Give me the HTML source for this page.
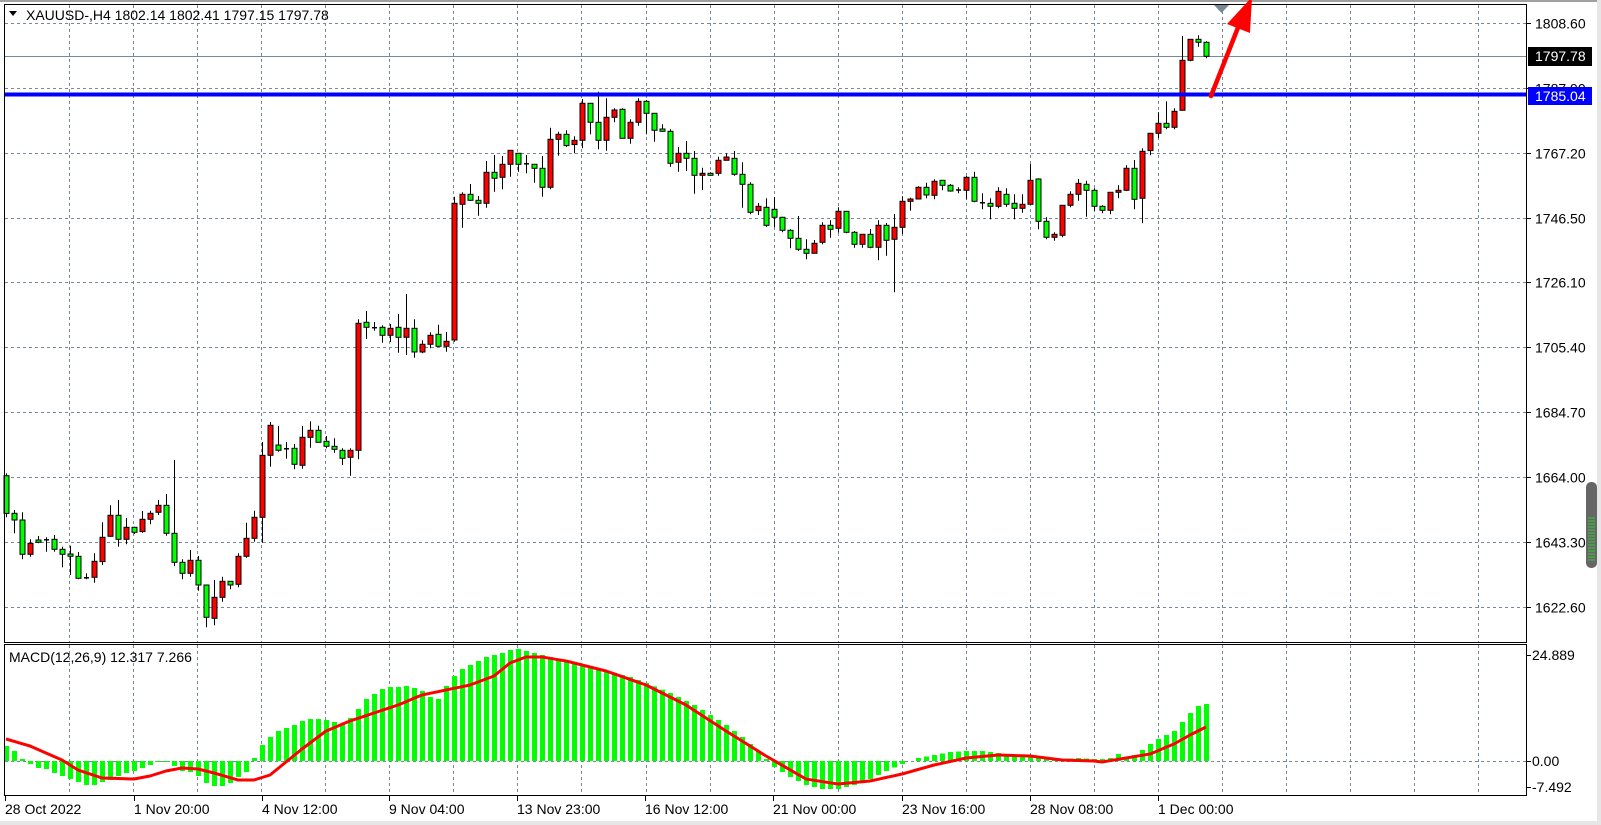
<!DOCTYPE html>
<html><head><meta charset="utf-8"><style>
html,body{margin:0;padding:0;background:#fff;}
body{width:1601px;height:825px;overflow:hidden;position:relative;font-family:"Liberation Sans",sans-serif;}
svg{position:absolute;left:0;top:0;}
text{font-family:"Liberation Sans",sans-serif;font-size:14px;fill:#000;}
</style></head><body>
<svg id="s" width="1601" height="825" xmlns="http://www.w3.org/2000/svg"></svg>
<script>
const s=document.getElementById('s');
let h='';
h+='<rect x="0" y="0" width="1601" height="825" fill="#fff"/>';
h+='<rect x="0" y="0" width="1601" height="2" fill="#a0a0a0"/>';
h+='<rect x="0" y="821" width="1601" height="4" fill="#e6e6e6"/>';
h+='<rect x="1597" y="0" width="4" height="825" fill="#e6e6e6"/>';
const py=p=>22.7+(1808.6-p)*3.1415;
for(let k=0;k<=22;k++){const x=Math.round(69+64.06*k)+0.5;
 h+=`<line x1="${x}" y1="5" x2="${x}" y2="642" stroke="#778899" stroke-dasharray="3,3"/>`;
 h+=`<line x1="${x}" y1="645" x2="${x}" y2="796" stroke="#778899" stroke-dasharray="3,3"/>`;}
const lv=[1808.60,1787.90,1767.20,1746.50,1726.10,1705.40,1684.70,1664.00,1643.30,1622.60];
lv.forEach(p=>{const y=Math.round(py(p))+0.5;
 h+=`<line x1="5" y1="${y}" x2="1527" y2="${y}" stroke="#778899" stroke-dasharray="3,3"/>`;
 h+=`<line x1="1527" y1="${y}" x2="1531" y2="${y}" stroke="#000"/>`;
 h+=`<text x="1535" y="${y+5}">${p.toFixed(2)}</text>`;});
h+=`<line x1="5" y1="56.5" x2="1527" y2="56.5" stroke="#778899"/>`;
const A=[[587,700,580,712,'g'],[700,720,690,760,'g'],[720,823,697,838,'g'],[790,823,778,830,'r'],[780,787,768,790,'g'],[778,781,772,815,'d'],[778,808,765,815,'g'],[808,823,800,862,'g'],[822,829,797,885,'g'],[829,895,816,898,'g'],[892,895,880,898,'d'],[844,892,820,908,'r'],[772,845,727,855,'r'],[706,769,676,770,'r'],[706,778,660,800,'g'],[742,778,714,793,'r'],[742,757,740,762,'g'],[718,755,693,758,'r'],[700,718,692,733,'r'],[676,697,660,705,'r'],[676,760,642,767,'g'],[760,847,540,858,'g'],[847,880,838,898,'g'],[841,880,810,890,'r'],[841,915,828,932,'g'],[915,1012,915,1042,'g'],[952,1015,900,1036,'r'],[904,952,890,965,'r'],[904,915,904,928,'g'],[829,913,820,922,'r'],[775,829,728,833,'r'],[712,775,692,785,'r'],[526,712,486,788,'r'],[436,526,426,560,'r'],[495,511,438,515,'g'],[505,508,486,536,'d'],[505,553,492,568,'g'],[472,556,438,566,'r'],[451,472,424,503,'r'],[451,487,437,487,'g'],[484,499,468,505,'g'],[499,508,475,518,'g'],[511,535,505,555,'g'],[511,532,505,587,'r'],[130,511,118,538,'r'],[127,142,93,177,'g'],[142,144,126,152,'d'],[142,166,136,188,'g'],[145,166,132,186,'r'],[142,172,102,218,'g'],[145,172,42,225,'r'],[145,216,118,233,'g'],[193,216,181,220,'r'],[166,193,157,205,'r'],[163,199,134,200,'g'],[184,199,156,215,'r']];
const B=[[355,765,335,770,'r'],[328,358,322,428,'r'],[328,346,297,348,'g'],[346,355,333,392,'g'],[262,355,228,368,'r'],[262,280,210,320,'g'],[238,277,213,313,'r'],[196,238,196,275,'r'],[205,238,205,260,'g'],[235,238,210,265,'d'],[238,250,238,293,'g'],[250,307,213,335,'g'],[163,307,128,313,'r'],[148,163,140,212,'r'],[148,182,136,186,'g'],[166,179,154,205,'r'],[55,166,42,190,'r'],[55,112,55,148,'g'],[112,166,20,193,'g'],[97,166,40,197,'r'],[75,97,70,112,'r'],[73,160,70,160,'g'],[112,160,103,176,'r'],[49,112,40,122,'r'],[49,85,45,148,'g'],[85,136,85,170,'g'],[132,139,118,140,'g'],[139,235,133,245,'g'],[205,232,186,260,'r'],[205,220,168,258,'g'],[220,271,198,326,'g'],[265,271,248,315,'r'],[265,271,262,272,'g'],[226,265,215,272,'r'],[216,226,205,226,'r'],[220,268,198,272,'g'],[268,298,232,368,'g'],[298,382,292,388,'g'],[364,377,354,390,'r'],[367,421,340,425,'g'],[373,397,336,427,'g'],[397,436,395,442,'g'],[436,460,433,490,'g'],[460,493,393,498,'g'],[493,505,463,523,'g'],[475,505,465,505,'r'],[421,472,412,478,'r'],[421,433,406,458,'g'],[379,430,367,443,'r']];
const C=[[559,622,559,625,'g'],[622,658,618,668,'g'],[628,658,628,668,'r'],[628,667,612,670,'g'],[601,667,586,706,'r'],[601,646,594,692,'g'],[607,643,567,802,'r'],[529,607,514,628,'r'],[522,529,518,557,'r'],[487,522,484,523,'r'],[487,510,473,520,'g'],[469,511,463,523,'r'],[466,481,466,496,'g'],[481,498,477,500,'g'],[494,496,487,505,'d'],[457,496,453,523,'r'],[457,529,440,532,'g'],[532,535,505,553,'d'],[535,544,520,583,'g'],[499,544,487,550,'r'],[508,538,490,545,'g'],[535,550,508,583,'g'],[538,550,508,563,'r'],[466,538,417,540,'r'],[462,589,460,613,'g'],[589,637,577,643,'g'],[628,637,622,647,'r'],[541,631,541,637,'r'],[508,541,499,547,'r'],[475,508,462,527,'r'],[478,496,467,575,'g'],[496,544,490,557,'g'],[544,556,541,565,'g'],[502,556,502,568,'r'],[496,502,481,520,'r'],[430,496,421,498,'r'],[430,523,405,553,'g'],[379,520,370,595,'r'],[325,377,325,391,'r'],[295,325,262,340,'r'],[295,307,229,313,'g'],[259,307,250,313,'r'],[106,256,33,256,'r'],[43,106,43,109,'r'],[43,52,31,65,'g'],[52,94,49,100,'g']];
const all=[];
A.forEach(c=>all.push(c.map((v,j)=>j<4?280+v/3:v)));
B.forEach(c=>all.push(c.map((v,j)=>j<4?85+v/3:v)));
C.forEach(c=>all.push(c.map((v,j)=>j<4?25+v/3:v)));
let cs='';
all.forEach((c,i)=>{const x=6+8*i;const xc=x+0.5;
 cs+=`<line x1="${xc}" y1="${c[2].toFixed(1)}" x2="${xc}" y2="${c[3].toFixed(1)}" stroke="#000"/>`;
 if(c[4]=='d'){cs+=`<line x1="${x-2}" y1="${((c[0]+c[1])/2).toFixed(1)}" x2="${x+3}" y2="${((c[0]+c[1])/2).toFixed(1)}" stroke="#000" stroke-width="1.5"/>`;}
 else{const hh=Math.max(2,c[1]-c[0]);cs+=`<rect x="${x-2}" y="${c[0].toFixed(1)}" width="5" height="${hh.toFixed(1)}" fill="${c[4]=='r'?'#ff0000':'#00ff00'}" stroke="#000" stroke-width="1"/>`;}
});
h+=cs;
h+=`<line x1="5" y1="94.5" x2="1527" y2="94.5" stroke="#0000ff" stroke-width="4"/>`;
const H0=[15,10,2,-3,-7,-8,-12,-15,-18,-21,-24,-24,-21,-19,-15,-12,-10,-7,-4,-1,-1,-5,-10,-11,-15,-22,-25,-25,-22,-16,-11,3,16,24,30,33,36,40,42,42,41,39,37,43,52,62,67,72,74,74,75,73,70,64,62,75,85,92,96,100,104,106];
const Hk={62:108,63:111,64:112,65:110,66:108,67:106,68:104,70:100,72:96,75:90,78:84,80:78,83:68,86:56,88:46,90:36,92:24,94:10,95:2,96:-6,98:-16,100:-24,102:-28,104:-28,106:-24,108:-18,110:-10,112:-3,114:3,116:6,118:9,120:10,122:10,124:8,126:6,128:4,130:2,132:2,134:3,136:2,137:2,138:3,139:7,140:3,141:6,142:11,143:17,144:22,145:26,146:30,147:39,148:48,149:55,150:57};
function interp(k,n){const ks=Object.keys(k).map(Number).sort((a,b)=>a-b);const o={};
 for(let i=ks[0];i<=n;i++){let a=ks[0],b=ks[ks.length-1];for(const q of ks){if(q<=i)a=q;}for(const q of ks){if(q>=i){b=q;break;}}
 o[i]=a==b?k[a]:k[a]+(k[b]-k[a])*(i-a)/(b-a);}return o;}
const Hi=interp(Hk,150);
const hist=[];for(let i=0;i<=150;i++)hist.push(i<62?H0[i]:Hi[i]);
const Z=761;
let mh='';
hist.forEach((v,i)=>{const x=6+8*i-2;if(v>=0)mh+=`<rect x="${x}" y="${(Z-v).toFixed(1)}" width="5" height="${v.toFixed(1)}" fill="#00ff00"/>`;else mh+=`<rect x="${x}" y="${Z}" width="5" height="${(-v).toFixed(1)}" fill="#00ff00"/>`;});
h+=`<line x1="5" y1="${Z+0.5}" x2="1527" y2="${Z+0.5}" stroke="#778899" stroke-dasharray="3,3"/>`;
h+=mh;
const Sk={0:22,3:15,7:1,9:-9,12:-17,16:-18,18:-15,20:-10,22:-7,24:-8,26:-12,29:-19,31:-19,33:-14,35:-1,37:12,40:30,43:40,46:48,49:56,52:66,55:71,58:76,61:85,63:98,65:104,67:104,70:100,75:90,80:76,85:56,90:30,95:5,100:-18,104:-23,108:-20,112:-13,116:-4,120:3,124:6,128:5,132:1,136:0,137:-1,140:3,143:7,146:17,148:26,150:34};
const Si=interp(Sk,150);
let pts=[];for(let i=0;i<=150;i++)pts.push(`${6+8*i},${(Z-Si[i]).toFixed(1)}`);
h+=`<polyline points="${pts.join(' ')}" fill="none" stroke="#ff0000" stroke-width="3" stroke-linejoin="round"/>`;
h+=`<rect x="4.5" y="4.5" width="1522" height="638" fill="none" stroke="#000"/>`;
h+=`<rect x="4.5" y="644.5" width="1522" height="151" fill="none" stroke="#000"/>`;
[[655,'24.889'],[761,'0.00'],[787,'-7.492']].forEach(([y,t])=>{h+=`<line x1="1527" y1="${y+0.5}" x2="1531" y2="${y+0.5}" stroke="#000"/><text x="1532" y="${y+5}">${t}</text>`;});
h+=`<text x="9" y="662">MACD(12,26,9) 12.317 7.266</text>`;
const tl=[[5,'28 Oct 2022'],[134,'1 Nov 20:00'],[262,'4 Nov 12:00'],[389,'9 Nov 04:00'],[517,'13 Nov 23:00'],[645,'16 Nov 12:00'],[773,'21 Nov 00:00'],[902,'23 Nov 16:00'],[1030,'28 Nov 08:00'],[1158,'1 Dec 00:00']];
tl.forEach(([x,t])=>{h+=`<line x1="${x+0.5}" y1="796" x2="${x+0.5}" y2="801" stroke="#000"/><text x="${x}" y="814">${t}</text>`;});
h+=`<rect x="1528" y="47" width="64" height="19" fill="#000"/><text x="1535" y="61" style="fill:#fff">1797.78</text>`;
h+=`<rect x="1528" y="87" width="64" height="18" fill="#0000ff"/><text x="1535" y="101" style="fill:#fff">1785.04</text>`;
h+=`<polygon points="9,11 17,11 13,16" fill="#000"/><text x="26" y="20">XAUUSD-,H4  1802.14 1802.41 1797.15 1797.78</text>`;
h+=`<polygon points="1214,5 1229,5 1221.5,13" fill="#778899"/>`;
h+=`<line x1="1211" y1="96" x2="1241" y2="20" stroke="#ff0000" stroke-width="4.5" stroke-linecap="round"/>`;
h+=`<polygon points="1252,-3 1227,24 1250,33" fill="#ff0000"/>`;
h+=`<rect x="1586" y="482" width="11" height="86" rx="5" fill="#666"/>`;
for(let y=518;y<562;y+=3)h+=`<line x1="1588" y1="${y}" x2="1595" y2="${y}" stroke="#3c3"/>`;
s.innerHTML=h;
</script>
</body></html>
